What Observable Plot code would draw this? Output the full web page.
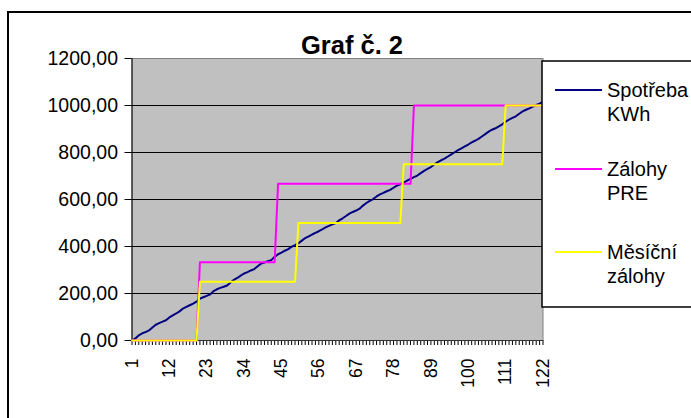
<!DOCTYPE html>
<html><head><meta charset="utf-8">
<script src="https://cdn.jsdelivr.net/npm/d3@7"></script>
<script src="https://cdn.jsdelivr.net/npm/@observablehq/plot@0.6"></script>
<style>body{margin:0;background:#fff} svg{display:block}</style>
</head><body><div id="chart"></div>
<script>
const title = "Graf č. 2";
const seriesNames = ["Spotřeba KWh", "Zálohy PRE", "Měsíční zálohy"];
const seriesColors = ["#000080", "#ff00ff", "#ffff00"];
const days = Array.from({length: 122}, (_, i) => i + 1);
const xTickLabels = [1, 12, 23, 34, 45, 56, 67, 78, 89, 100, 111, 122];
const yTicks = [0, 200, 400, 600, 800, 1000, 1200];
const gridValues = [200, 400, 600, 800, 1000];

const spotreba = [
  0, 9, 22, 30, 36, 43, 55, 67, 74, 80,
  86, 98, 107, 115, 124, 136, 143, 150, 157, 165,
  178, 184, 190, 196, 210, 218, 224, 229, 234, 247,
  258, 266, 276, 285, 291, 298, 304, 316, 327, 332,
  337, 342, 356, 367, 374, 382, 389, 399, 406, 414,
  425, 436, 443, 451, 458, 465, 473, 481, 488, 494,
  500, 511, 520, 530, 540, 547, 553, 561, 574, 585,
  594, 602, 613, 622, 628, 635, 641, 650, 659, 665,
  672, 680, 688, 695, 702, 712, 722, 730, 738, 749,
  759, 767, 774, 783, 792, 801, 810, 818, 826, 834,
  843, 850, 858, 868, 878, 889, 897, 903, 911, 920,
  931, 940, 947, 954, 965, 975, 982, 988, 995, 1002,
  1008, 1016
];
const zalohyPRE = [
  0, 0, 0, 0, 0, 0, 0, 0, 0, 0,
  0, 0, 0, 0, 0, 0, 0, 0, 0, 0,
  333.33, 333.33, 333.33, 333.33, 333.33, 333.33, 333.33, 333.33, 333.33, 333.33,
  333.33, 333.33, 333.33, 333.33, 333.33, 333.33, 333.33, 333.33, 333.33, 333.33,
  333.33, 333.33, 333.33,
  666.67, 666.67, 666.67, 666.67, 666.67, 666.67, 666.67, 666.67, 666.67, 666.67,
  666.67, 666.67, 666.67, 666.67, 666.67, 666.67, 666.67, 666.67, 666.67, 666.67,
  666.67, 666.67, 666.67, 666.67, 666.67, 666.67, 666.67, 666.67, 666.67, 666.67,
  666.67, 666.67, 666.67, 666.67, 666.67, 666.67, 666.67, 666.67, 666.67, 666.67,
  1000, 1000, 1000, 1000, 1000, 1000, 1000, 1000, 1000, 1000,
  1000, 1000, 1000, 1000, 1000, 1000, 1000, 1000, 1000, 1000,
  1000, 1000, 1000, 1000, 1000, 1000, 1000, 1000, 1000, 1000,
  1000, 1000, 1000, 1000, 1000, 1000, 1000, 1000, 1000
];
const mesicniZalohy = [
  0, 0, 0, 0, 0, 0, 0, 0, 0, 0,
  0, 0, 0, 0, 0, 0, 0, 0, 0, 0,
  250, 250, 250, 250, 250, 250, 250, 250, 250, 250,
  250, 250, 250, 250, 250, 250, 250, 250, 250, 250,
  250, 250, 250, 250, 250, 250, 250, 250, 250,
  500, 500, 500, 500, 500, 500, 500, 500, 500, 500,
  500, 500, 500, 500, 500, 500, 500, 500, 500, 500,
  500, 500, 500, 500, 500, 500, 500, 500, 500, 500,
  500,
  750, 750, 750, 750, 750, 750, 750, 750, 750, 750,
  750, 750, 750, 750, 750, 750, 750, 750, 750, 750,
  750, 750, 750, 750, 750, 750, 750, 750, 750, 750,
  1000, 1000, 1000, 1000, 1000, 1000, 1000, 1000, 1000, 1000,
  1000, 1000
];

const seriesValues = [spotreba, zalohyPRE, mesicniZalohy];
const rows = seriesValues.map(vals => days.map((d, i) => ({day: d, value: vals[i]})));
const fmt = d => d.toFixed(2).replace(".", ",");
const font = "'Liberation Sans', Arial, sans-serif";

const plot = Plot.plot({
  width: 691, height: 418,
  marginLeft: 131.5, marginRight: 148.5, marginTop: 58, marginBottom: 78,
  style: {fontFamily: font, background: "white", color: "black"},
  x: {domain: [1, 122]},
  y: {domain: [0, 1200]},
  marks: [
    Plot.frame({fill: "#c0c0c0", stroke: "#808080"}),
    Plot.ruleY(gridValues, {stroke: "#000", strokeWidth: 1}),
    Plot.axisY({ticks: yTicks, tickSize: 7, tickPadding: 7, tickFormat: fmt, fontSize: 19.5, label: null, stroke: "#000"}),
    Plot.axisX({ticks: days, tickSize: 5, tickFormat: () => "", label: null, stroke: "#000"}),
    Plot.text(xTickLabels, {x: d => d, text: d => String(d), frameAnchor: "bottom", dy: 18, rotate: -90,
      textAnchor: "end", lineAnchor: "middle", fontSize: 17.5, fill: "black"}),
    Plot.ruleX([1], {stroke: "#000"}),
    Plot.ruleY([0], {stroke: "#333"}),
    ...rows.map((r, i) => Plot.line(r, {x: "day", y: "value", stroke: seriesColors[i], strokeWidth: 2}))
  ]
});
document.getElementById("chart").append(plot);

const svg = d3.select(plot);
svg.append("rect").attr("x", 8).attr("y", 12).attr("width", 720).attr("height", 450)
  .attr("fill", "none").attr("stroke", "black").attr("stroke-width", 2);
svg.append("text").attr("x", 352).attr("y", 54).attr("text-anchor", "middle")
  .attr("font-family", font).attr("font-weight", "bold").attr("font-size", 25.5).attr("fill", "black").text(title);

svg.append("rect").attr("x", 542).attr("y", 61).attr("width", 170).attr("height", 246)
  .attr("fill", "white").attr("stroke", "black").attr("stroke-width", 1.5);
const legendY = [90, 169, 252];
seriesNames.forEach((name, i) => {
  const y = legendY[i];
  svg.append("line").attr("x1", 555).attr("x2", 602).attr("y1", y).attr("y2", y)
    .attr("stroke", seriesColors[i]).attr("stroke-width", 2);
  const parts = name.split(" ");
  const t = svg.append("text").attr("x", 607).attr("y", y + 6.5).attr("text-anchor", "start")
    .attr("font-family", font).attr("font-size", 20).attr("fill", "black");
  parts.forEach((p, j) => t.append("tspan").attr("x", 607).attr("dy", j === 0 ? 0 : 24).text(p));
});
</script></body></html>
